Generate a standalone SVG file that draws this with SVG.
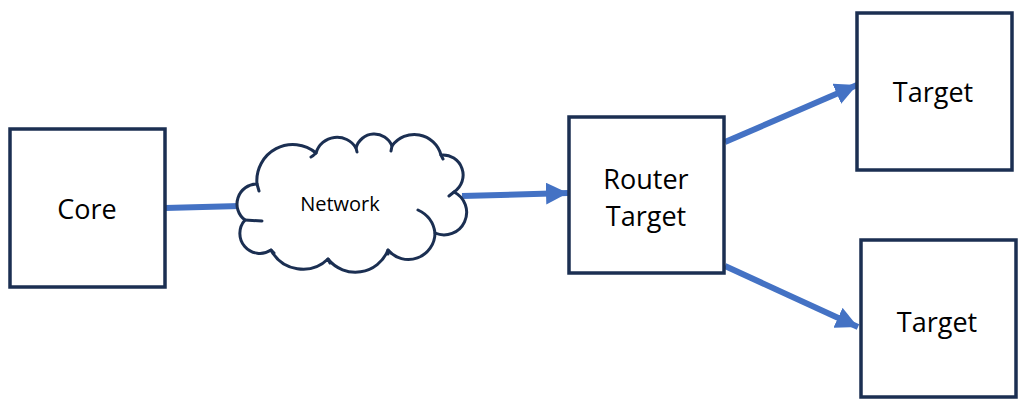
<svg xmlns="http://www.w3.org/2000/svg" width="1028" height="408" viewBox="0 0 1028 408">
<style>
.box{fill:#fff;stroke:#1b2f52;stroke-width:3.5}
.cloud{fill:#fff;stroke:#1b2f52;stroke-width:3;stroke-linejoin:round}
.hook{fill:none;stroke:#1b2f52;stroke-width:3;stroke-linecap:round}
.lbl{font-family:"Open Sans","Liberation Sans",sans-serif;font-size:27px;fill:#000;text-anchor:middle}
.small{font-size:20px}
.conn{stroke:#4472c4;stroke-width:6;fill:none}
</style>
<defs>
<marker id="ah" markerUnits="userSpaceOnUse" markerWidth="24" markerHeight="22" refX="22" refY="11" orient="auto">
<path d="M0,0 L22,11 L0,22 Z" fill="#4472c4"/>
</marker>
</defs>
<g id="connectors">
<line class="conn" x1="165" y1="208" x2="240" y2="206"/>
<line class="conn" x1="462" y1="196" x2="568" y2="193" marker-end="url(#ah)"/>
<line class="conn" x1="725" y1="142" x2="857" y2="85" marker-end="url(#ah)"/>
<line class="conn" x1="725" y1="266" x2="858" y2="327" marker-end="url(#ah)"/>
</g>
<g id="core">
<rect class="box" x="10" y="129" width="155" height="158"/>
<text class="lbl" x="87" y="219">Core</text>
</g>
<g id="network">
<path class="cloud" d="M245,220 A20,20 0 0 1 257,184 A36,36 0 0 1 316,153 A22,22 0 0 1 356,148 A19,19 0 0 1 392,146 A27.5,27.5 0 0 1 441,155 A20.2,20.2 0 0 1 454,192 A22.6,22.6 0 0 1 435,233 A26.6,26.6 0 0 1 388,250 A35,35 0 0 1 328,259 A36,36 0 0 1 271,250 A20,20 0 0 1 245,220 Z"/>
<path class="hook" d="M257,184 L259,191 M316,153 Q313,156 311,157 M356,148 L357,152 M392,146 L391,151 M441,155 L443,159 M454,192 L449,196 M435,233 Q433,217 418,210 M388,250 L388,254 M328,259 L330,263 M271,250 L274,253 M245,220 L262,221"/>
<text class="lbl small" x="340" y="211">Network</text>
</g>
<g id="router">
<rect class="box" x="569" y="117" width="155" height="156"/>
<text class="lbl" x="646" y="189">Router</text>
<text class="lbl" x="646" y="226">Target</text>
</g>
<g id="target1">
<rect class="box" x="857" y="13" width="155" height="157"/>
<text class="lbl" x="933" y="102">Target</text>
</g>
<g id="target2">
<rect class="box" x="861" y="240" width="155" height="157"/>
<text class="lbl" x="937" y="332">Target</text>
</g>
</svg>
